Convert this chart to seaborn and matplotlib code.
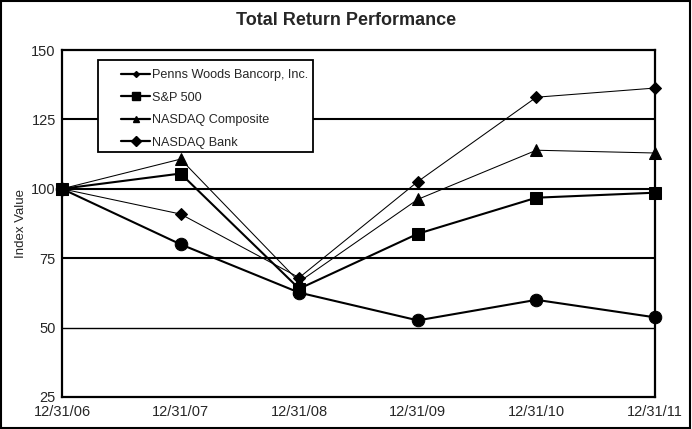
import matplotlib
matplotlib.use("Agg")
import matplotlib.pyplot as plt
import seaborn as sns
import pandas as pd
from matplotlib.patches import Rectangle
from matplotlib.lines import Line2D

dates = ["12/31/06", "12/31/07", "12/31/08", "12/31/09", "12/31/10", "12/31/11"]
penns_woods = [100, 90.9, 68.0, 102.6, 133.0, 136.3]
sp500 = [100, 105.5, 64.0, 83.8, 96.8, 98.6]
nasdaq_comp = [100, 110.7, 66.5, 96.2, 113.9, 112.9]
nasdaq_bank = [100, 80.0, 62.6, 52.6, 60.0, 53.7]

series = {
    "Penns Woods Bancorp, Inc.": penns_woods,
    "S&P 500": sp500,
    "NASDAQ Composite": nasdaq_comp,
    "NASDAQ Bank": nasdaq_bank,
}
# chart markers / line weights
styles = {
    "Penns Woods Bancorp, Inc.": dict(marker="D", markersize=6, linewidth=0.75),
    "S&P 500": dict(marker="s", markersize=9, linewidth=1.5),
    "NASDAQ Composite": dict(marker="^", markersize=9, linewidth=0.75),
    "NASDAQ Bank": dict(marker="o", markersize=9, linewidth=1.5),
}
# the legend in the original uses slightly different symbols
legend_markers = {
    "Penns Woods Bancorp, Inc.": ("D", 3),
    "S&P 500": ("s", 6),
    "NASDAQ Composite": ("^", 5),
    "NASDAQ Bank": ("D", 5),
}

rows = []
for name, vals in series.items():
    for i, v in enumerate(vals):
        rows.append({"idx": i, "value": v, "series": name})
df = pd.DataFrame(rows)

sns.set_style("white")
plt.rcParams["font.family"] = ["Liberation Sans", "DejaVu Sans"]

fig = plt.figure(figsize=(6.92, 4.29), dpi=100)
ax = fig.add_axes([0.0896, 0.0746, 0.8569, 0.8088])

for name in series:
    st = styles[name]
    sns.lineplot(data=df[df["series"] == name], x="idx", y="value", ax=ax,
                 color="black", marker=st["marker"], markersize=st["markersize"],
                 linewidth=st["linewidth"], markeredgecolor="black",
                 legend=False, clip_on=False, zorder=3)

ax.set_xlim(0, 5)
ax.set_ylim(25, 150)
ax.set_xticks(range(len(dates)))
ax.set_xticklabels(dates)
ax.set_yticks([25, 50, 75, 100, 125, 150])
ax.set_xlabel("")
ax.set_ylabel("Index Value", fontsize=9.5, labelpad=3)
ax.tick_params(axis="both", direction="inout", length=7, width=1.3, labelsize=10.5, color="black")
ax.tick_params(axis="x", pad=2)
ax.tick_params(axis="y", pad=1)

for y in [50, 75, 100, 125]:
    ax.axhline(y, color="black", linewidth=1.5 if y > 50 else 1.0, zorder=1)

for s in ["left", "right", "bottom", "top"]:
    ax.spines[s].set_color("black")
    ax.spines[s].set_linewidth(1.6)

# legend box drawn separately
ax.add_patch(Rectangle((0.0607, 0.706), 0.3626, 0.265, transform=ax.transAxes,
                       facecolor="white", edgecolor="black", linewidth=1.3, zorder=4))
handles = [Line2D([], [], color="black", linewidth=1.6, marker=m, markersize=ms,
                  markeredgecolor="black") for m, ms in legend_markers.values()]
leg = ax.legend(handles, list(series.keys()), loc="upper left",
                bbox_to_anchor=(0.0995, 0.944), frameon=False, fontsize=9.1,
                handlelength=2.3, handletextpad=0.15, borderpad=0, borderaxespad=0,
                labelspacing=0.82)
leg.set_zorder(5)

fig.text(0.5, 0.953, "Total Return Performance", ha="center", va="center",
         fontsize=13, fontweight="bold")

fig.patches.append(Rectangle((0.002, 0.003), 0.995, 0.994, transform=fig.transFigure,
                             fill=False, edgecolor="black", linewidth=1.5))

fig.savefig("out.png", dpi=100)
